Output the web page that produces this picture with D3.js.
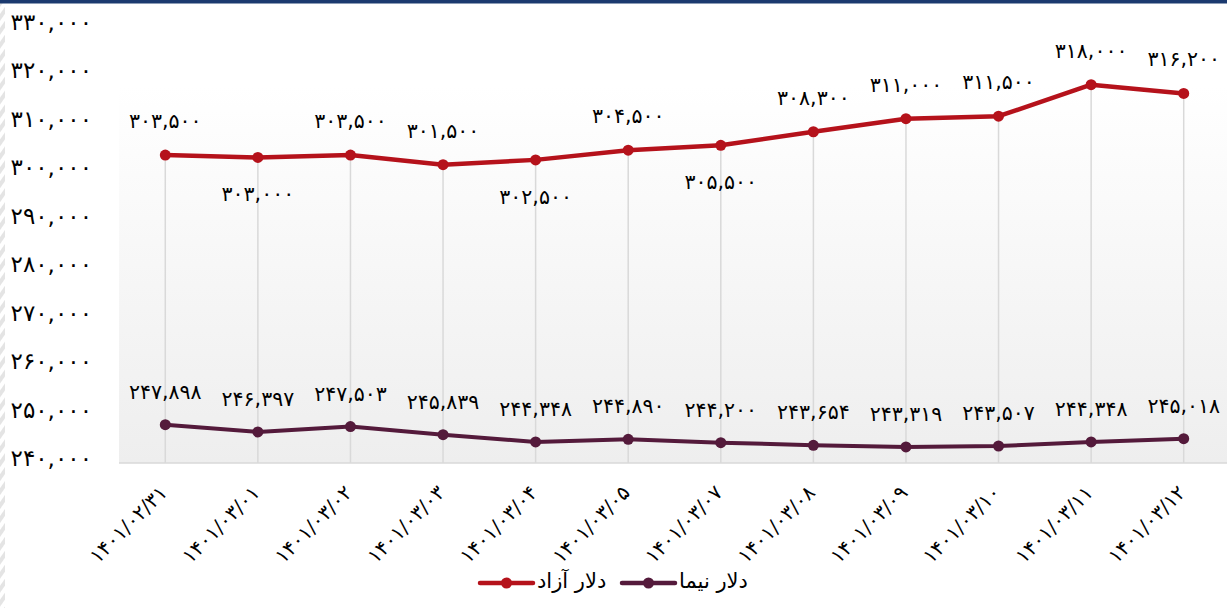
<!DOCTYPE html>
<html><head><meta charset="utf-8">
<script src="https://cdn.jsdelivr.net/npm/d3@7"></script>
<style>
html,body{margin:0;padding:0;background:#fff;}
svg{display:block;font-family:"DejaVu Sans",sans-serif;}
</style></head>
<body>
<svg id="chart" width="1227" height="608"></svg>
<script>
const categories = ["1401/02/31","1401/03/01","1401/03/02","1401/03/03","1401/03/04","1401/03/05","1401/03/07","1401/03/08","1401/03/09","1401/03/10","1401/03/11","1401/03/12"];
const freeDollar = [303500,303000,303500,301500,302500,304500,305500,308300,311000,311500,318000,316200];
const freeLabelPos = ["above","below","above","above","below","above","below","above","above","above","above","above"];
const nimaDollar = [247898,246397,247503,245839,244348,244890,244200,243654,243319,243507,244348,245018];
const yTicks = [240000,250000,260000,270000,280000,290000,300000,310000,320000,330000];
const seriesNames = ["دلار آزاد","دلار نیما"];
const colors = ["#B5121B","#541A3B"];

const fa = s => String(s).replace(/[0-9]/g, d => "۰۱۲۳۴۵۶۷۸۹"[+d]);
const fmt = v => fa(d3.format(",")(v));

const svg = d3.select("#chart");
const W = 1227, H = 608;
const plot = {left:119, right:1230, top:20, bottom:463};

const defs = svg.append("defs");
const grad = defs.append("linearGradient").attr("id","bg").attr("x1",0).attr("y1",0).attr("x2",0).attr("y2",1);
grad.append("stop").attr("offset","0%").attr("stop-color","#ffffff");
grad.append("stop").attr("offset","15%").attr("stop-color","#ffffff");
grad.append("stop").attr("offset","100%").attr("stop-color","#EEEEEE");
const pat = defs.append("pattern").attr("id","hatch").attr("width",8).attr("height",8)
  .attr("patternUnits","userSpaceOnUse").attr("patternTransform","rotate(35)");
pat.append("rect").attr("width",4).attr("height",8).attr("fill","#E4E4E4");

// frame decorations
svg.append("rect").attr("x",0).attr("y",0).attr("width",5).attr("height",H).attr("fill","url(#hatch)");
svg.append("rect").attr("x",0).attr("y",0).attr("width",W).attr("height",3.5).attr("fill","#1B3A6F");

const x = d3.scaleBand().domain(categories).range([plot.left, plot.right]);
const y = d3.scaleLinear().domain([240000,330000]).range([plot.bottom, plot.bottom - 9*48.5]);
const cx = c => x(c) + x.bandwidth()/2;

svg.append("rect").attr("x",plot.left).attr("y",plot.top).attr("width",plot.right-plot.left)
  .attr("height",plot.bottom-plot.top).attr("fill","url(#bg)");

// drop lines from the upper series
svg.append("g").selectAll("line").data(freeDollar).join("line")
  .attr("x1",(d,i)=>cx(categories[i])).attr("x2",(d,i)=>cx(categories[i]))
  .attr("y1",d=>y(d)).attr("y2",plot.bottom)
  .attr("stroke","#D9D9D9").attr("stroke-width",1.5);
// bottom axis line
svg.append("line").attr("x1",plot.left).attr("x2",plot.right).attr("y1",plot.bottom).attr("y2",plot.bottom)
  .attr("stroke","#D9D9D9").attr("stroke-width",1.5);

// y axis labels
const yAxis = d3.axisLeft(y).tickValues(yTicks).tickFormat(fmt).tickSize(0).tickPadding(0);
const ya = svg.append("g").attr("transform","translate(92,-4.5)").call(yAxis);
ya.select(".domain").remove();
ya.selectAll("text").attr("font-size",23).attr("fill","#000").attr("font-family","DejaVu Sans, sans-serif");

// x axis labels
const xAxis = d3.axisBottom(x).tickFormat(fa).tickSize(0).tickPadding(0);
const xa = svg.append("g").attr("transform","translate(0,"+plot.bottom+")").call(xAxis);
xa.select(".domain").remove();
xa.selectAll("text").attr("font-size",20).attr("fill","#000").attr("font-family","DejaVu Sans, sans-serif")
  .attr("text-anchor","end").attr("dy",0).attr("y",0)
  .attr("transform","translate(3,31) rotate(-45)");

const line = d3.line().x((d,i)=>cx(categories[i])).y(d=>y(d));
function drawSeries(vals, color, width, r){
  svg.append("path").datum(vals).attr("d",line).attr("fill","none")
    .attr("stroke",color).attr("stroke-width",width).attr("stroke-linejoin","round");
  svg.append("g").selectAll("circle").data(vals).join("circle")
    .attr("cx",(d,i)=>cx(categories[i])).attr("cy",d=>y(d)).attr("r",r).attr("fill",color);
}
drawSeries(freeDollar, colors[0], 4.5, 5.5);
drawSeries(nimaDollar, colors[1], 4, 5.5);

// data labels
svg.append("g").selectAll("text").data(freeDollar).join("text")
  .attr("x",(d,i)=>cx(categories[i]))
  .attr("y",(d,i)=> y(d) + (freeLabelPos[i]==="above" ? -34 : 37))
  .attr("dominant-baseline","central").attr("text-anchor","middle")
  .attr("font-size",20.5).attr("fill","#000").text(fmt);
svg.append("g").selectAll("text").data(nimaDollar).join("text")
  .attr("x",(d,i)=>cx(categories[i]))
  .attr("y",d=> y(d) - 33)
  .attr("dominant-baseline","central").attr("text-anchor","middle")
  .attr("font-size",20.5).attr("fill","#000").text(fmt);

// legend
const leg = [{name:seriesNames[0],color:colors[0],x0:480},{name:seriesNames[1],color:colors[1],x0:622}];
const lg = svg.append("g");
leg.forEach(l=>{
  lg.append("line").attr("x1",l.x0).attr("x2",l.x0+53).attr("y1",583).attr("y2",583)
    .attr("stroke",l.color).attr("stroke-width",4.5).attr("stroke-linecap","round");
  lg.append("circle").attr("cx",l.x0+26.5).attr("cy",583).attr("r",5.5).attr("fill",l.color);
  lg.append("text").attr("x",l.x0+57).attr("y",581).attr("dominant-baseline","central")
    .attr("font-size",21).attr("fill","#000").text(l.name);
});
</script>
</body></html>
